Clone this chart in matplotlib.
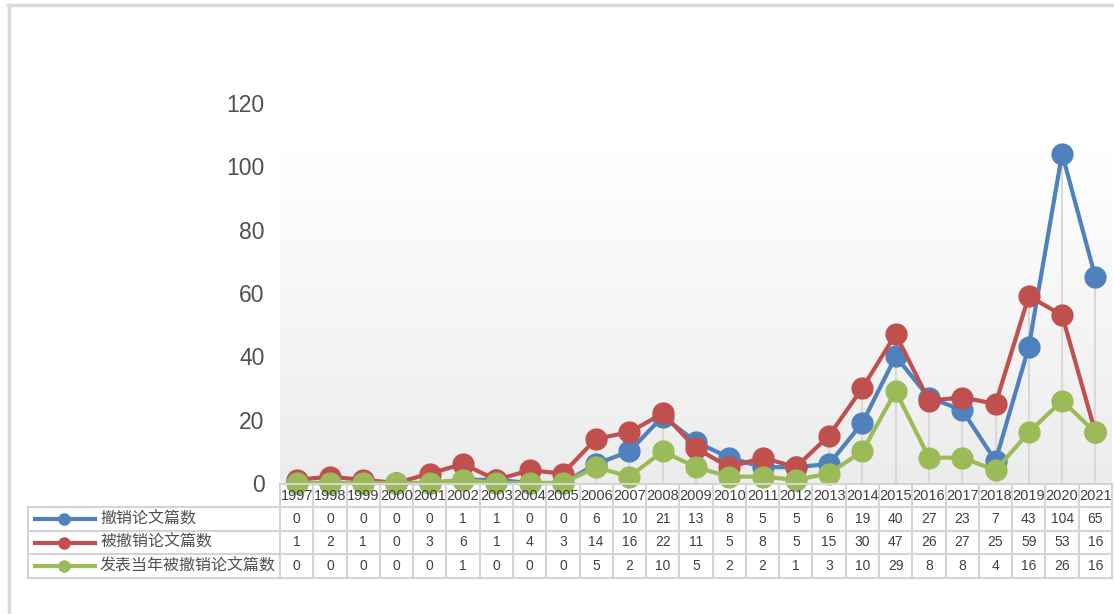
import matplotlib.pyplot as plt
import numpy as np
from matplotlib.lines import Line2D
from matplotlib.colors import LinearSegmentedColormap
from matplotlib.transforms import blended_transform_factory

plt.rcParams['font.family'] = ['Noto Sans CJK SC', 'DejaVu Sans']

years = ['1997', '1998', '1999', '2000', '2001', '2002', '2003', '2004', '2005',
         '2006', '2007', '2008', '2009', '2010', '2011', '2012', '2013', '2014',
         '2015', '2016', '2017', '2018', '2019', '2020', '2021']
names = ['撤销论文篇数', '被撤销论文篇数', '发表当年被撤销论文篇数']
retracted = [0, 0, 0, 0, 0, 1, 1, 0, 0, 6, 10, 21, 13, 8, 5, 5, 6, 19, 40, 27, 23, 7, 43, 104, 65]
was_retracted = [1, 2, 1, 0, 3, 6, 1, 4, 3, 14, 16, 22, 11, 5, 8, 5, 15, 30, 47, 26, 27, 25, 59, 53, 16]
same_year = [0, 0, 0, 0, 0, 1, 0, 0, 0, 5, 2, 10, 5, 2, 2, 1, 3, 10, 29, 8, 8, 4, 16, 26, 16]
yticks = [0, 20, 40, 60, 80, 100, 120]

series = [retracted, was_retracted, same_year]
colors = ['#4f81bd', '#c0504d', '#9bbb59']

W, H = 1114, 614
def fy(y):
    return 1 - y / H

fig = plt.figure(figsize=(W / 100, H / 100), dpi=100)
ax = fig.add_axes([280 / W, fy(483), (1112 - 280) / W, (483 - 103) / H])
x = np.arange(len(years))
ax.set_xlim(-0.5, len(years) - 0.5)
ax.set_ylim(0, 120)

# gradient back wall
cmap = LinearSegmentedColormap.from_list('wall', ['#ffffff', '#ececec'])
grad = np.linspace(0, 1, 256).reshape(-1, 1)
ax.imshow(grad, extent=(-0.5, len(years) - 0.5, 0, 105), aspect='auto',
          cmap=cmap, zorder=0, origin='upper')

# drop lines
ax.vlines(x, 0, np.max(series, axis=0), color='#d9d9d9', lw=1.5, zorder=1)

for vals, c in zip(series, colors):
    ax.plot(x, vals, color=c, lw=3, marker='o', ms=15, zorder=3, clip_on=False)

ax.set_yticks(yticks)
ax.set_xticks([])
ax.tick_params(axis='y', length=0, pad=11, labelsize=16.5, labelcolor='#505050')
for t in ax.get_yticklabels():
    t.set_family(['Liberation Sans'])
for s in ax.spines.values():
    s.set_visible(False)

# data table
tr = blended_transform_factory(ax.transData, fig.transFigure)
border = '#d4d4d4'
rows_y = [484, 507, 531, 554, 578]
for i in range(len(years) + 1):
    fig.add_artist(Line2D([i - 0.5, i - 0.5], [fy(rows_y[0]), fy(rows_y[-1])],
                          transform=tr, color=border, lw=1.5))
fig.add_artist(Line2D([-0.5, len(years) - 0.5], [fy(rows_y[0])] * 2,
                      transform=tr, color=border, lw=1.5))
for yy in rows_y[1:]:
    fig.add_artist(Line2D([28 / W, 1112 / W], [fy(yy)] * 2, color=border, lw=1.5))
fig.add_artist(Line2D([28 / W, 28 / W], [fy(rows_y[1]), fy(rows_y[-1])], color=border, lw=1.5))

for i, yr in enumerate(years):
    fig.text(i, fy((rows_y[0] + rows_y[1]) / 2), yr, transform=tr, ha='center', va='center',
             fontsize=10.5, color='#404040', family=['Liberation Sans'])

for r, (vals, c, nm) in enumerate(zip(series, colors, names)):
    yc = fy((rows_y[r + 1] + rows_y[r + 2]) / 2)
    for i, v in enumerate(vals):
        fig.text(i, yc, str(v), transform=tr, ha='center', va='center',
                 fontsize=10, color='#404040', family=['Liberation Sans'])
    fig.add_artist(Line2D([35 / W, 95 / W], [yc, yc], color=c, lw=3))
    fig.add_artist(Line2D([64 / W], [yc], color=c, marker='o', ms=8))
    fig.text(100 / W, yc, nm, ha='left', va='center', fontsize=11.5, color='#505050')

# outer frame
fig.add_artist(Line2D([8 / W, 1], [fy(5), fy(5)], color='#d9d9d9', lw=2.5))
fig.add_artist(Line2D([9 / W, 9 / W], [fy(5), 0], color='#d9d9d9', lw=2.5))

fig.savefig('out.png', dpi=100)
